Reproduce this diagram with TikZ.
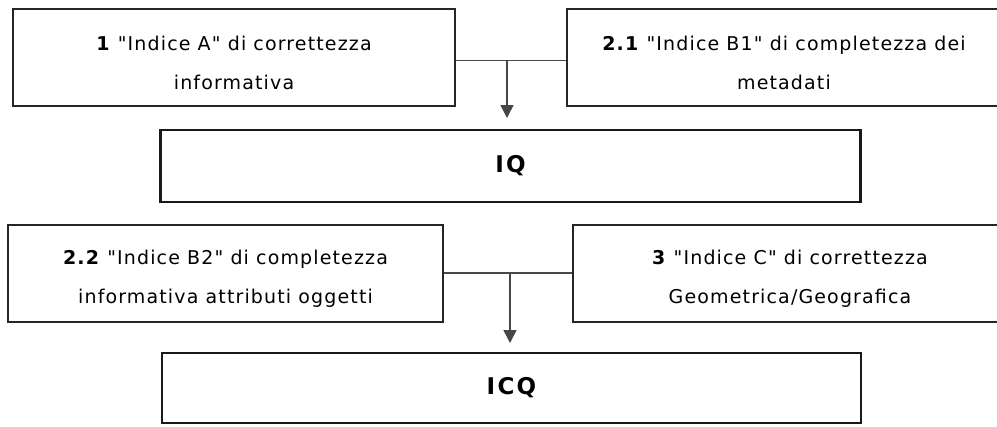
\documentclass[tikz,border=0pt]{standalone}
\usepackage{fontspec}
\setmainfont{DejaVu Sans}[Ligatures=TeXOff, LetterSpace=6]
\newfontfamily\bigfont{DejaVu Sans}[Ligatures=TeXOff, LetterSpace=10]
\usetikzlibrary{arrows.meta}
\begin{document}
\begin{tikzpicture}[x=1bp,y=-1bp,
  box/.style={draw=black!85, line width=2bp, rectangle, inner sep=0pt},
  txt/.style={inner sep=0pt, align=center, font=\fontsize{19bp}{39bp}\selectfont},
  bigbox/.style={draw=black!90, line width=2.8bp, rectangle, inner sep=0pt,
    font=\bigfont\fontsize{23bp}{26bp}\selectfont\bfseries},
  conn/.style={draw=black!72, line width=1.6bp},
  arr/.style={conn, -{Triangle[width=13bp,length=13bp]}}]
\useasboundingbox (0,0) rectangle (997,426);
\clip (0,0) rectangle (997,426);
\fill[white] (0,0) rectangle (997,426);
% top row
\node[box, minimum width=442bp, minimum height=97bp] (a) at (234,57.5) {};
\node[txt] (ta) at ([yshift=-5bp]a.center)
  {\textbf{1} "Indice A" di correttezza\\informativa};
\node[box, minimum width=434bp, minimum height=97bp] (b1) at (784,57.5) {};
\node[txt] (tb1) at ([yshift=-5bp]b1.center)
  {\textbf{2.1} "Indice B1" di completezza dei\\metadati};
\node[bigbox, minimum width=700bp, minimum height=72bp] (iq) at (510.5,166) {IQ};
\coordinate (j1) at (507,60.5);
\draw[conn] (a.east |- j1) -- (b1.west |- j1);
\coordinate (t1) at (507,118);
\draw[arr] (j1) -- (t1);
% bottom row
\node[box, minimum width=435bp, minimum height=97bp] (b2) at (225.5,273.5) {};
\node[txt] (tb2) at ([yshift=-5bp]b2.center)
  {\textbf{2.2} "Indice B2" di completezza\\informativa attributi oggetti};
\node[box, minimum width=434bp, minimum height=97bp] (c) at (790,273.5) {};
\node[txt] (tc) at ([yshift=-5bp]c.center)
  {\textbf{3} "Indice C" di correttezza\\Geometrica/Geografica};
\node[bigbox, minimum width=699bp, minimum height=70bp] (icq) at (511.5,388) {ICQ};
\coordinate (j2) at (510,273);
\draw[conn] (b2.east |- j2) -- (c.west |- j2);
\coordinate (t2) at (510,343);
\draw[arr] (j2) -- (t2);
\end{tikzpicture}
\end{document}
